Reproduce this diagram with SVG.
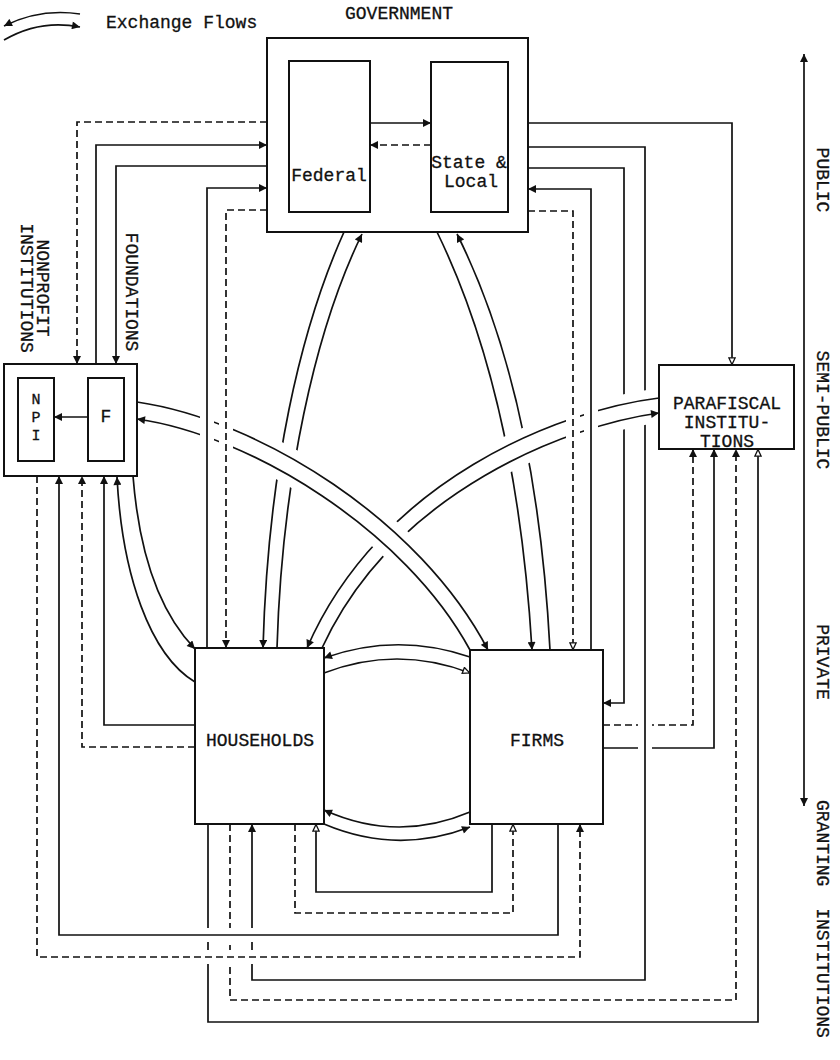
<svg xmlns="http://www.w3.org/2000/svg" width="840" height="1060" viewBox="0 0 840 1060">
<style>
.ln{fill:none;stroke:#111;stroke-width:1.7}
.d{stroke-dasharray:7 4}
.box{fill:#fff;stroke:#111;stroke-width:2}
.t{font-family:"Liberation Mono","DejaVu Sans Mono",monospace;font-size:18px;fill:#111;stroke:#111;stroke-width:0.3}
.s{font-size:15px}
.m{text-anchor:middle}
.halo{fill:none;stroke:#fff;stroke-width:14}
.bh{fill:none;stroke:#fff;stroke-width:19}
</style>
<defs>
<marker id="a" viewBox="0 0 10 10" refX="10" refY="5" markerWidth="9" markerHeight="8" markerUnits="userSpaceOnUse" orient="auto-start-reverse"><path d="M0,0 L10,5 L0,10 z" fill="#111"/></marker>
<marker id="h" viewBox="0 0 10 10" refX="10" refY="5" markerWidth="9" markerHeight="8" markerUnits="userSpaceOnUse" orient="auto"><path d="M1,1 L9.5,5 L1,9 z" fill="#fff" stroke="#111" stroke-width="1.6"/></marker>
<clipPath id="mid"><rect x="150" y="380" width="500" height="220"/></clipPath>
</defs>
<rect width="840" height="1060" fill="#fff"/>

<g id="legend">
<path class="ln" d="M80,14 Q40,8 4,26" marker-end="url(#a)"/>
<path class="ln" d="M4,40 Q40,19 80,27" marker-end="url(#a)"/>
<text class="t" x="106" y="28">Exchange Flows</text>
</g>

<g id="government">
<text class="t m" x="399" y="19">GOVERNMENT</text>
<rect class="box" x="267" y="38" width="261" height="194"/>
</g>
<g id="federal">
<rect class="box" x="289" y="61" width="81" height="151"/>
<text class="t m" x="329" y="181">Federal</text>
</g>
<g id="state-local">
<rect class="box" x="431" y="62" width="77" height="150"/>
<text class="t m" x="469" y="168">State &amp;</text>
<text class="t m" x="471" y="187">Local</text>
</g>

<g id="nonprofit">
<text class="t m" transform="translate(37,288) rotate(90)">NONPROFIT</text>
<text class="t m" transform="translate(21,288) rotate(90)">INSTITUTIONS</text>
<rect class="box" x="4" y="364" width="133" height="112"/>
<rect class="box" x="18" y="378" width="36" height="83"/>
<text class="t s m" x="36" y="404">N</text>
<text class="t s m" x="36" y="422">P</text>
<text class="t s m" x="36" y="440">I</text>
</g>
<g id="foundations">
<text class="t m" transform="translate(126,292) rotate(90)">FOUNDATIONS</text>
<rect class="box" x="88" y="378" width="36" height="83"/>
<text class="t m" x="106" y="422">F</text>
</g>

<g id="parafiscal">
<rect class="box" x="659" y="365" width="135" height="84"/>
<text class="t m" x="727" y="409">PARAFISCAL</text>
<text class="t m" x="727" y="428">INSTITU-</text>
<text class="t m" x="727" y="447">TIONS</text>
</g>

<g id="households">
<rect class="box" x="195" y="648" width="129" height="176"/>
<text class="t m" x="260" y="746">HOUSEHOLDS</text>
</g>
<g id="firms">
<rect class="box" x="470" y="650" width="133" height="174"/>
<text class="t m" x="537" y="746">FIRMS</text>
</g>

<g id="sector-axis">
<path class="ln" d="M804,54 V806" marker-start="url(#a)" marker-end="url(#a)"/>
<text class="t m" transform="translate(817,180) rotate(90)">PUBLIC</text>
<text class="t m" transform="translate(817,410) rotate(90)">SEMI-PUBLIC</text>
<text class="t m" transform="translate(817,662) rotate(90)">PRIVATE</text>
<text class="t" transform="translate(817,800) rotate(90)">GRANTING <tspan dx="11">INSTITUTIONS</tspan></text>
</g>

<g id="connectors">
<path class="ln" d="M370,123 H431" marker-end="url(#a)"/>
<path class="ln d" d="M431,145 H370" marker-end="url(#a)"/>
<path class="ln d" d="M267,122 H77 V364" marker-end="url(#a)"/>
<path class="ln" d="M96,364 V145 H267" marker-end="url(#a)"/>
<path class="ln" d="M267,166 H116 V364" marker-end="url(#a)"/>
<path class="ln" d="M88,417 H54" marker-end="url(#a)"/>
<path class="ln d" d="M195,747 H82 V476" marker-end="url(#a)"/>
<path class="ln" d="M195,725 H104 V476" marker-end="url(#a)"/>
<path class="ln" d="M133,476 C140,565 165,618 195,649" marker-end="url(#a)"/>
<path class="ln" d="M195,682 C150,655 122,575 117,477" marker-end="url(#a)"/>
<path class="ln" d="M528,123 H732 V365" marker-end="url(#h)"/>
<path class="ln d" d="M603,725 H693 V449" marker-end="url(#a)"/>
<path class="ln" d="M603,748 H714 V449" marker-end="url(#a)"/>
<path class="halo" d="M645,712 V762"/>
<path class="ln" d="M528,147 H645 V980 H252 V824" marker-end="url(#a)"/>
<path class="ln" d="M528,168 H624 V703 H603" marker-end="url(#a)"/>
<path class="ln d" d="M230,824 V1000 H736 V449" marker-end="url(#a)"/>
<path class="ln" d="M208,824 V1022 H758 V449" marker-end="url(#h)"/>
<path class="ln" d="M492,824 V892 H316 V824" marker-end="url(#h)"/>
<path class="ln d" d="M295,824 V913 H513 V824" marker-end="url(#h)"/>
<path class="ln" d="M470,657 Q397,632 324,658" marker-end="url(#a)"/>
<path class="ln" d="M324,673 Q397,645 470,673" marker-end="url(#h)"/>
<path class="ln" d="M470,812 Q397,843 324,810" marker-end="url(#a)"/>
<path class="ln" d="M324,824 Q397,855 470,827" marker-end="url(#a)"/>
<path class="ln" d="M344,232 C300,330 268,470 263,648" marker-end="url(#a)"/>
<path class="ln" d="M277,648 C282,480 315,330 362,234" marker-end="url(#a)"/>
<path class="ln" d="M437,232 C480,320 520,450 532,650" marker-end="url(#a)"/>
<path class="ln" d="M550,650 C540,460 505,330 457,234" marker-end="url(#a)"/>
<g clip-path="url(#mid)">
<path class="bh" d="M659,398 C560,410 380,480 307,648"/>
<path class="bh" d="M322,648 C395,490 570,425 659,413"/>
</g>
<path class="ln" d="M659,398 C560,410 380,480 307,648" marker-end="url(#a)"/>
<path class="ln" d="M322,648 C395,490 570,425 659,413" marker-end="url(#a)"/>
<g clip-path="url(#mid)">
<path class="bh" d="M137,402 C260,420 420,520 488,650"/>
<path class="bh" d="M470,650 C405,530 250,435 137,419"/>
</g>
<path class="ln" d="M137,402 C260,420 420,520 488,650" marker-end="url(#a)"/>
<path class="ln" d="M470,650 C405,530 250,435 137,419" marker-end="url(#a)"/>
<path class="halo" d="M207,390 V455 M226,390 V455 M573,385 V445 M591,385 V445"/>
<path class="ln" d="M207,648 V188 H267" marker-end="url(#a)"/>
<path class="ln d" d="M267,210 H226 V648" marker-end="url(#a)"/>
<path class="ln" d="M591,650 V189 H528" marker-end="url(#a)"/>
<path class="ln d" d="M528,211 H573 V650" marker-end="url(#h)"/>
<path class="halo" d="M198,935 H262 M198,957 H262"/>
<path class="ln" d="M558,824 V935 H59 V476" marker-end="url(#a)"/>
<path class="ln d" d="M37,476 V957 H580 V824" marker-end="url(#a)"/>
</g>
</svg>
